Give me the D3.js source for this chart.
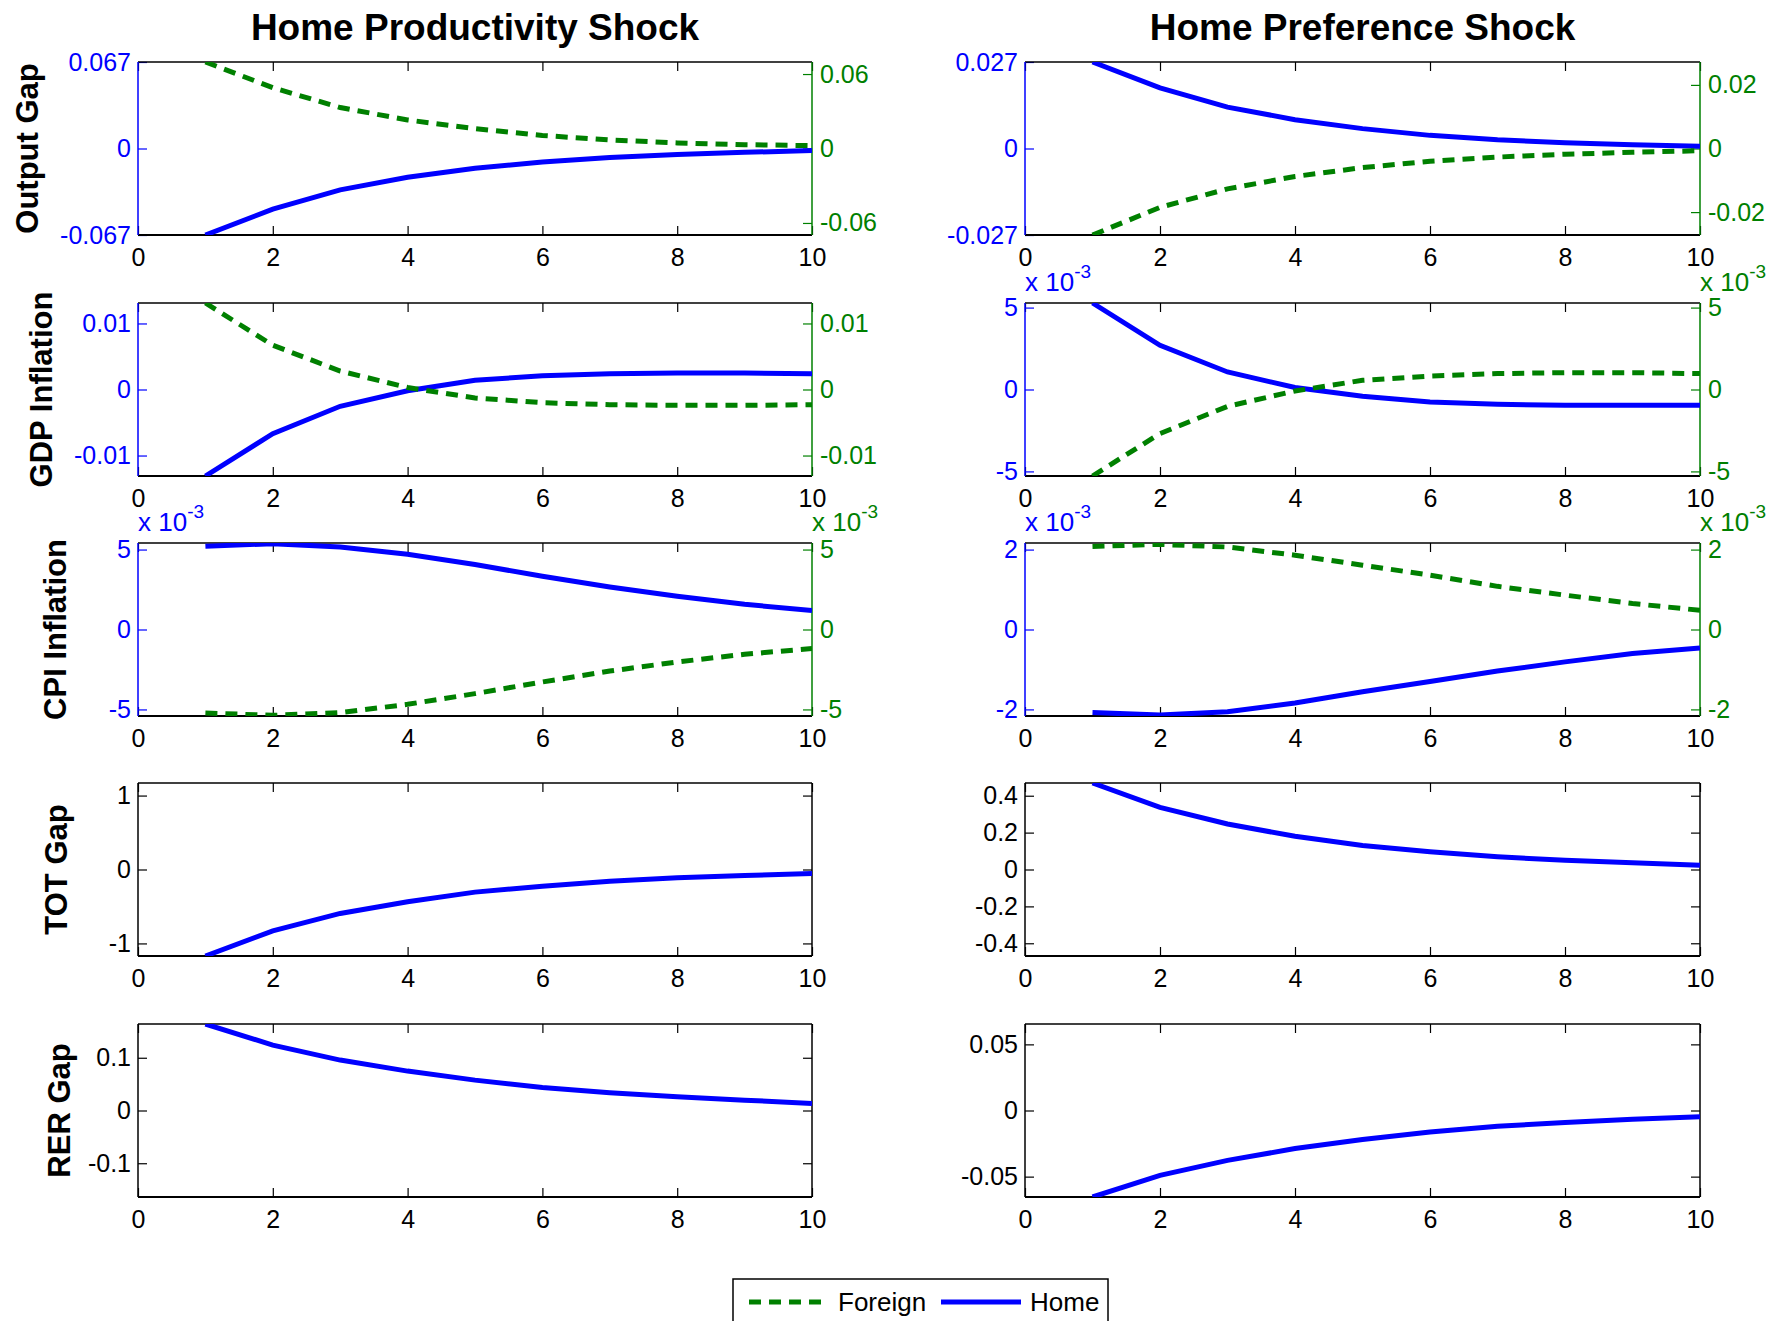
<!DOCTYPE html>
<html>
<head>
<meta charset="utf-8">
<script src="https://cdn.jsdelivr.net/npm/d3@7"></script>
<style>
  body { margin: 0; background: #fff; }
  text { font-family: "Liberation Sans", Arial, Helvetica, sans-serif; }
</style>
</head>
<body>
<div id="chart"></div>
<script>
// horizons and labels
const steps = [1, 2, 3, 4, 5, 6, 7, 8, 9, 10];
const xTicks = [0, 2, 4, 6, 8, 10];
const shockTitles = ["Home Productivity Shock", "Home Preference Shock"];
const rowLabels = ["Output Gap", "GDP Inflation", "CPI Inflation", "TOT Gap", "RER Gap"];
const seriesNames = ["Foreign", "Home"];

// home productivity shock
const prodOutputHome    = [-0.067, -0.047, -0.032, -0.0223, -0.0153, -0.0104, -0.0070, -0.0046, -0.0030, -0.0016];
const prodOutputForeign = [0.0697, 0.049, 0.033, 0.023, 0.016, 0.0105, 0.0069, 0.0045, 0.0031, 0.0023];
const prodGdpHome       = [-0.0131, -0.0067, -0.00254, -0.0002, 0.00139, 0.0021, 0.0024, 0.0025, 0.0025, 0.0024];
const prodGdpForeign    = [0.0131, 0.0067, 0.0028, 0.0003, -0.00128, -0.0020, -0.0023, -0.0024, -0.0024, -0.0023];
const prodCpiHome       = [5.20, 5.37, 5.16, 4.70, 4.06, 3.33, 2.66, 2.08, 1.58, 1.18];     // x 10^-3
const prodCpiForeign    = [-5.22, -5.37, -5.20, -4.68, -4.01, -3.28, -2.60, -2.03, -1.55, -1.19]; // x 10^-3
const prodTotHome       = [-1.17, -0.83, -0.594, -0.436, -0.306, -0.225, -0.158, -0.112, -0.081, -0.054];
const prodRerHome       = [0.164, 0.124, 0.0956, 0.0747, 0.0576, 0.0437, 0.0335, 0.0259, 0.0196, 0.0133];

// home preference shock
const prefOutputHome    = [0.027, 0.0189, 0.0129, 0.0090, 0.0062, 0.0041, 0.0027, 0.0018, 0.0012, 0.0007];
const prefOutputForeign = [-0.0272, -0.0185, -0.0127, -0.0088, -0.0060, -0.0040, -0.0027, -0.0018, -0.0012, -0.0007];
const prefGdpHome       = [5.28, 2.70, 1.07, 0.12, -0.41, -0.76, -0.90, -0.96, -0.96, -0.96];   // x 10^-3
const prefGdpForeign    = [-5.28, -2.69, -1.03, -0.09, 0.56, 0.82, 0.97, 1.03, 1.03, 0.97];    // x 10^-3
const prefCpiHome       = [-2.08, -2.14, -2.06, -1.84, -1.56, -1.30, -1.04, -0.81, -0.60, -0.46]; // x 10^-3
const prefCpiForeign    = [2.08, 2.13, 2.065, 1.86, 1.61, 1.36, 1.08, 0.86, 0.65, 0.48];       // x 10^-3
const prefTotHome       = [0.469, 0.337, 0.247, 0.180, 0.130, 0.096, 0.069, 0.050, 0.036, 0.023];
const prefRerHome       = [-0.0654, -0.049, -0.0377, -0.0288, -0.022, -0.0162, -0.0119, -0.0091, -0.0066, -0.0048];

const panels = [
  {row: 0, col: 0, home: prodOutputHome, foreign: prodOutputForeign, left: 0.067, right: 0.0697, leftTicks: [-0.067, 0, 0.067], rightTicks: [-0.06, 0, 0.06]},
  {row: 0, col: 1, home: prefOutputHome, foreign: prefOutputForeign, left: 0.027, right: 0.0272, leftTicks: [-0.027, 0, 0.027], rightTicks: [-0.02, 0, 0.02]},
  {row: 1, col: 0, home: prodGdpHome, foreign: prodGdpForeign, left: 0.0131, right: 0.0131, leftTicks: [-0.01, 0, 0.01], rightTicks: [-0.01, 0, 0.01]},
  {row: 1, col: 1, home: prefGdpHome, foreign: prefGdpForeign, left: 5.28, right: 5.28, leftTicks: [-5, 0, 5], rightTicks: [-5, 0, 5], exp: true},
  {row: 2, col: 0, home: prodCpiHome, foreign: prodCpiForeign, left: 5.41, right: 5.41, leftTicks: [-5, 0, 5], rightTicks: [-5, 0, 5], exp: true},
  {row: 2, col: 1, home: prefCpiHome, foreign: prefCpiForeign, left: 2.165, right: 2.165, leftTicks: [-2, 0, 2], rightTicks: [-2, 0, 2], exp: true},
  {row: 3, col: 0, home: prodTotHome, left: 1.17, leftTicks: [-1, 0, 1]},
  {row: 3, col: 1, home: prefTotHome, left: 0.469, leftTicks: [-0.4, -0.2, 0, 0.2, 0.4]},
  {row: 4, col: 0, home: prodRerHome, left: 0.164, leftTicks: [-0.1, 0, 0.1]},
  {row: 4, col: 1, home: prefRerHome, left: 0.0654, leftTicks: [-0.05, 0, 0.05]}
];

const W = 1772, H = 1321;
const BLUE = "#0000ff", GREEN = "#008000";
const colX = [[138, 812], [1025, 1700]];
const rowTop = [62, 303, 543, 783, 1024];
const boxH = 173;
const labelX = [27, 41, 55, 56, 59];
const TICK = 9;

const svg = d3.select("#chart").append("svg")
  .attr("width", W)
  .attr("height", H);

// column titles
shockTitles.forEach((t, i) => {
  svg.append("text")
    .attr("x", (colX[i][0] + colX[i][1]) / 2)
    .attr("y", 40)
    .attr("text-anchor", "middle")
    .style("font-size", "37px")
    .style("font-weight", "bold")
    .text(t);
});

// row labels
rowLabels.forEach((t, r) => {
  const cy = rowTop[r] + boxH / 2;
  svg.append("text")
    .attr("transform", `translate(${labelX[r] + 11},${cy}) rotate(-90)`)
    .attr("text-anchor", "middle")
    .style("font-size", "31px")
    .style("font-weight", "bold")
    .text(t);
});

function styleAxis(g, color, size) {
  g.select(".domain").remove();
  g.selectAll(".tick line").attr("stroke", color).attr("stroke-width", 1.2);
  g.selectAll(".tick text").attr("fill", color).style("font-size", size + "px");
}

function expLabel(x, y, anchor, color) {
  const t = svg.append("text")
    .attr("x", x).attr("y", y)
    .attr("text-anchor", anchor)
    .attr("fill", color)
    .style("font-size", "26px");
  t.append("tspan").text("x 10");
  t.append("tspan").attr("dy", -13).style("font-size", "19px").text("-3");
}

panels.forEach((p, i) => {
  const [x0, x1] = colX[p.col];
  const y0 = rowTop[p.row], y1 = y0 + boxH;
  const dual = !!p.foreign;
  const leftColor = dual ? BLUE : "#000";

  const x = d3.scaleLinear().domain([0, 10]).range([x0, x1]);
  const yL = d3.scaleLinear().domain([-p.left, p.left]).range([y1, y0]);

  const clipId = "clip" + i;
  svg.append("clipPath").attr("id", clipId)
    .append("rect").attr("x", x0).attr("y", y0).attr("width", x1 - x0).attr("height", boxH);

  // x axis bottom and top (ticks inward)
  const gxB = svg.append("g").attr("transform", `translate(0,${y1})`)
    .call(d3.axisBottom(x).tickValues(xTicks).tickSizeInner(-TICK).tickSizeOuter(0).tickPadding(13).tickFormat(d => d));
  styleAxis(gxB, "#000", 25);
  const gxT = svg.append("g").attr("transform", `translate(0,${y0})`)
    .call(d3.axisTop(x).tickValues(xTicks).tickSizeInner(-TICK).tickSizeOuter(0).tickFormat(""));
  styleAxis(gxT, "#000", 25);

  // left axis
  const gyL = svg.append("g").attr("transform", `translate(${x0},0)`)
    .call(d3.axisLeft(yL).tickValues(p.leftTicks).tickSizeInner(-TICK).tickSizeOuter(0).tickPadding(7).tickFormat(d => String(d)));
  styleAxis(gyL, leftColor, 25);

  // right axis
  let yR = yL;
  if (dual) {
    yR = d3.scaleLinear().domain([-p.right, p.right]).range([y1, y0]);
    const gyR = svg.append("g").attr("transform", `translate(${x1},0)`)
      .call(d3.axisRight(yR).tickValues(p.rightTicks).tickSizeInner(-TICK).tickSizeOuter(0).tickPadding(8).tickFormat(d => String(d)));
    styleAxis(gyR, GREEN, 25);
  } else {
    const gyR = svg.append("g").attr("transform", `translate(${x1},0)`)
      .call(d3.axisRight(yL).tickValues(p.leftTicks).tickSizeInner(-TICK).tickSizeOuter(0).tickFormat(""));
    styleAxis(gyR, "#000", 25);
  }

  // box edges
  svg.append("line").attr("x1", x0).attr("x2", x1).attr("y1", y0).attr("y2", y0).attr("stroke", "#000").attr("stroke-width", 1.5);
  svg.append("line").attr("x1", x0).attr("x2", x1).attr("y1", y1).attr("y2", y1).attr("stroke", "#000").attr("stroke-width", 2);
  svg.append("line").attr("x1", x0).attr("x2", x0).attr("y1", y0).attr("y2", y1).attr("stroke", leftColor).attr("stroke-width", 1.5);
  svg.append("line").attr("x1", x1).attr("x2", x1).attr("y1", y0).attr("y2", y1).attr("stroke", dual ? GREEN : "#000").attr("stroke-width", 1.5);

  // series
  const lineL = d3.line().x((d, k) => x(steps[k])).y(d => yL(d));
  svg.append("path")
    .datum(p.home)
    .attr("clip-path", `url(#${clipId})`)
    .attr("fill", "none")
    .attr("stroke", BLUE)
    .attr("stroke-width", 5)
    .attr("d", lineL);

  if (dual) {
    const lineR = d3.line().x((d, k) => x(steps[k])).y(d => yR(d));
    svg.append("path")
      .datum(p.foreign)
      .attr("clip-path", `url(#${clipId})`)
      .attr("fill", "none")
      .attr("stroke", GREEN)
      .attr("stroke-width", 5)
      .attr("stroke-dasharray", "12,8")
      .attr("d", lineR);
  }

  if (p.exp) {
    expLabel(x0, y0 - 12, "start", BLUE);
    expLabel(x1, y0 - 12, "start", GREEN);
  }
});

// legend
const lg = svg.append("g");
lg.append("rect")
  .attr("x", 733).attr("y", 1279).attr("width", 375).attr("height", 80)
  .attr("fill", "#fff").attr("stroke", "#000").attr("stroke-width", 1.5);
const legendItems = [
  {name: seriesNames[0], color: GREEN, dash: "12,8", x: 749},
  {name: seriesNames[1], color: BLUE, dash: null, x: 941}
];
legendItems.forEach(it => {
  lg.append("line")
    .attr("x1", it.x).attr("x2", it.x + 80)
    .attr("y1", 1302).attr("y2", 1302)
    .attr("stroke", it.color).attr("stroke-width", 5)
    .attr("stroke-dasharray", it.dash);
  lg.append("text")
    .attr("x", it.x + 89).attr("y", 1311)
    .style("font-size", "26px")
    .text(it.name);
});
</script>
</body>
</html>
